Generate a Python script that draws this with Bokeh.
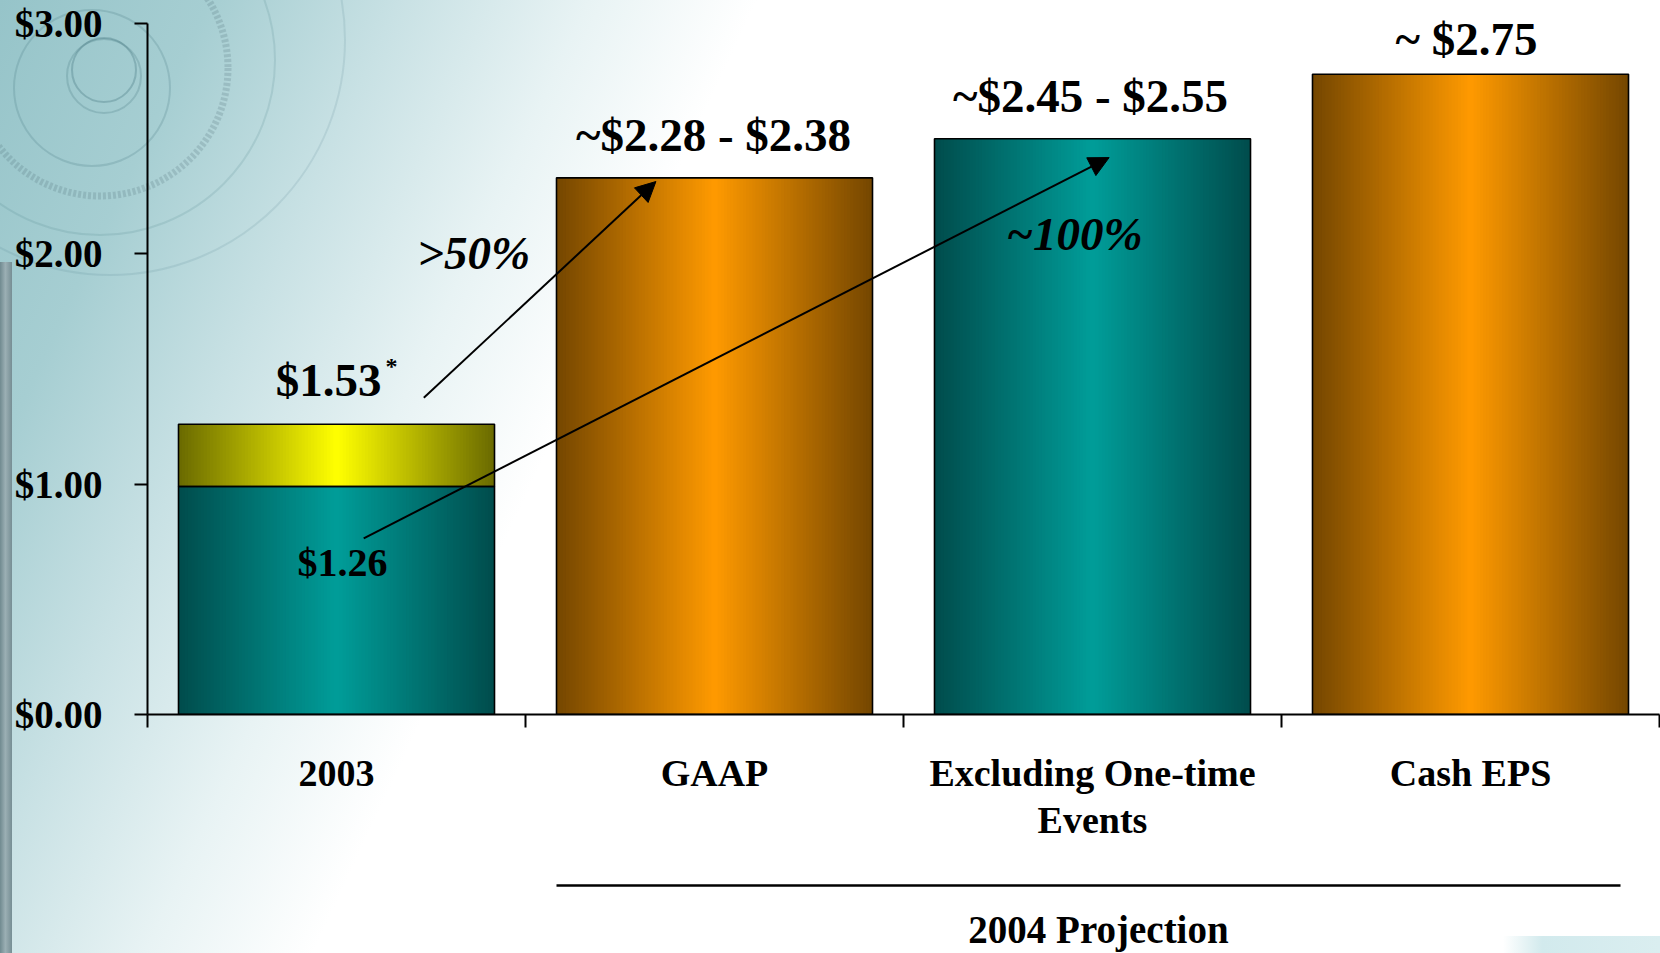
import numpy as np
from urllib.parse import quote
from bokeh.plotting import figure
from bokeh.models import Range1d, FixedTicker, PrintfTickFormatter, Arrow, NormalHead, LinearAxis
from bokeh.core.properties import value
from bokeh.embed import file_html
from bokeh.resources import INLINE

# ---------------- data ----------------
categories = ["2003", "GAAP", "Excluding One-time\nEvents", "Cash EPS"]
base_values = [0.99, 2.33, 2.50, 2.78]      # main bar height
extra_values = [0.27, 0.0, 0.0, 0.0]        # yellow portion stacked on 2003
base_palette = ["teal", "orange", "teal", "orange"]
value_labels = ["$1.53", "~$2.28 - $2.38", "~$2.45 - $2.55", "~ $2.75"]
footnote_mark = "*"
inner_label = "$1.26"
growth_labels = [">50%", "~100%"]
y_ticks = [0, 1, 2, 3]
group_label = "2004 Projection"
group_members = [1, 3]   # first and last category covered by the group line

# ---------------- layout ----------------
W, H = 1660, 953
LEFT, RIGHT, BOTTOM = 147, 1, 239
N = len(categories)
Y_TOP = 3.1
PX = (W - LEFT - RIGHT) / N
PY = (H - BOTTOM) / Y_TOP
BW = 0.836
FONT = "Liberation Serif"
BASE_FIX = 0.40   # baseline correction, in em


def dx(px):
    return px / PX


def dy(px):
    return px / PY


p = figure(width=W, height=H, x_range=Range1d(0, N), y_range=Range1d(0, Y_TOP),
           output_backend="svg", toolbar_location=None,
           min_border_left=LEFT, min_border_right=RIGHT, min_border_top=0,
           min_border_bottom=BOTTOM)
p.border_fill_color = None
p.background_fill_color = None
p.outline_line_color = None
p.xgrid.visible = False
p.ygrid.visible = False

# ---------------- background (CSS behind transparent canvas) ----------------
rings = (
    "<svg xmlns='http://www.w3.org/2000/svg' width='420' height='420'>"
    "<g fill='none'>"
    "<circle cx='104' cy='70' r='32' stroke='rgba(60,110,120,0.30)' stroke-width='2'/>"
    "<circle cx='104' cy='76' r='37' stroke='rgba(60,110,120,0.22)' stroke-width='2'/>"
    "<circle cx='92' cy='88' r='78' stroke='rgba(60,110,120,0.20)' stroke-width='2'/>"
    "<circle cx='100' cy='68' r='128' stroke='rgba(70,100,110,0.20)' stroke-width='7' stroke-dasharray='3 2'/>"
    "<circle cx='100' cy='60' r='175' stroke='rgba(60,110,120,0.14)' stroke-width='2'/>"
    "<circle cx='110' cy='40' r='235' stroke='rgba(60,110,120,0.12)' stroke-width='2'/>"
    "</g></svg>"
)
layers = [
    'url("data:image/svg+xml,' + quote(rings) + '")',
    "linear-gradient(to right, rgb(112,138,144), rgb(155,175,180) 45%, rgb(118,142,148))",
    "linear-gradient(to right, rgba(205,232,235,0), rgb(210,234,237) 25%, rgb(218,238,240))",
    "linear-gradient(115deg, rgb(150,196,201) 0%, rgb(166,206,210) 10%, rgb(200,225,228) 19%, "
    "rgb(232,243,244) 28%, rgb(255,255,255) 36%)",
]
p.styles = {
    "background-color": "white",
    "background-image": ", ".join(layers),
    "background-repeat": "no-repeat",
    "background-position": "0px 0px, 0px 262px, 1503px 936px, 0px 0px",
    "background-size": "420px 420px, 12px 691px, 157px 17px, 100% 100%",
}

# ---------------- bars with horizontal shading ----------------
GRAD = {
    "teal": ((0, 76, 76), (0, 157, 153)),
    "orange": ((116, 70, 0), (255, 154, 0)),
    "yellow": ((106, 106, 0), (255, 255, 0)),
}


def shade(xc, bottom, top, key, n=100):
    edge, mid = GRAD[key]
    e = np.linspace(xc - BW / 2, xc + BW / 2, n + 1)
    m = (e[:-1] + e[1:]) / 2
    t = np.abs(m - xc) / (BW / 2)
    cols = ["#%02x%02x%02x" % tuple(int(round(mid[k] + (edge[k] - mid[k]) * ti)) for k in range(3))
            for ti in t]
    ov = (e[1] - e[0]) * 0.6
    p.quad(left=e[:-1], right=np.minimum(e[1:] + ov, xc + BW / 2), bottom=bottom, top=top,
           fill_color=cols, line_color=None)


xc = np.arange(N) + 0.5
base = np.array(base_values)
extra = np.array(extra_values)
tops = base + extra

for i in range(N):
    shade(xc[i], 0, base[i], base_palette[i])
    if extra[i] > 0:
        shade(xc[i], base[i], tops[i], "yellow")

p.quad(left=xc - BW / 2, right=xc + BW / 2, bottom=0, top=base,
       fill_color=None, line_color="black", line_width=1.6)
has_extra = extra > 0
p.quad(left=(xc - BW / 2)[has_extra], right=(xc + BW / 2)[has_extra], bottom=base[has_extra],
       top=tops[has_extra], fill_color=None, line_color="black", line_width=1.6)

# ---------------- axes ----------------
ya = p.yaxis[0]
ya.ticker = FixedTicker(ticks=y_ticks)
ya.bounds = (y_ticks[0], y_ticks[-1])
ya.formatter = PrintfTickFormatter(format="$%.2f")
ya.axis_line_width = 2
ya.major_tick_line_width = 2
ya.major_tick_out = 13
ya.major_tick_in = 0
ya.minor_tick_line_color = None
ya.major_label_standoff = 32
ya.major_label_text_font = FONT
ya.major_label_text_font_style = "bold"
ya.major_label_text_font_size = "39px"
ya.major_label_text_color = "black"

xa = p.xaxis[0]
xa.ticker = FixedTicker(ticks=list(xc), minor_ticks=list(range(N + 1)))
xa.major_label_overrides = {float(c): lab for c, lab in zip(xc, categories)}
xa.axis_line_width = 2
xa.major_tick_line_color = None
xa.major_tick_out = 13
xa.major_tick_in = 0
xa.minor_tick_line_color = "black"
xa.minor_tick_line_width = 2
xa.minor_tick_out = 13
xa.minor_tick_in = 0
xa.major_label_standoff = 24
xa.major_label_text_font = FONT
xa.major_label_text_font_style = "bold"
xa.major_label_text_font_size = "38px"
xa.major_label_text_line_height = 1.14
xa.major_label_text_color = "black"
# invisible spacer label so the group rule below sits at the right depth
xa.axis_label = "\u00a0"
xa.axis_label_standoff = 27
xa.axis_label_text_font_size = "10px"

# second axis: the "2004 Projection" group rule and its label
g0, g1 = group_members
gx = (xc[g0] + xc[g1]) / 2 + dx(6)
ga = LinearAxis(ticker=FixedTicker(ticks=[gx], minor_ticks=[]),
                major_label_overrides={float(gx): group_label},
                bounds=(xc[g0] - BW / 2, xc[g1] + BW / 2 - dx(8)))
ga.axis_line_width = 2.5
ga.axis_line_color = "black"
ga.major_tick_line_color = None
ga.minor_tick_line_color = None
ga.major_tick_out = 0
ga.major_tick_in = 0
ga.major_label_standoff = 22
ga.major_label_text_font = FONT
ga.major_label_text_font_style = "bold"
ga.major_label_text_font_size = "39px"
ga.major_label_text_color = "black"
p.add_layout(ga, "below")


# ---------------- value labels ----------------
def fix(size_px):
    return dy(BASE_FIX * size_px)


label_gap_px = [25, 24, 24, 16]
label_shift_px = [-8, -1, -2, -4]
p.text(x=xc + dx(np.array(label_shift_px)), y=tops + dy(np.array(label_gap_px)) + fix(47), text=value_labels,
       text_font=value(FONT), text_font_style="bold", text_font_size="47px",
       text_align="center", text_baseline="alphabetic", text_color="black")
p.text(x=[xc[0] + dx(49)], y=[tops[0] + dy(label_gap_px[0] + 24) + fix(24)], text=[footnote_mark],
       text_font=value(FONT), text_font_style="bold", text_font_size="24px",
       text_align="left", text_baseline="alphabetic", text_color="black")
p.text(x=[xc[0] + dx(6)], y=[base[0] - dy(92) + fix(40)], text=[inner_label],
       text_font=value(FONT), text_font_style="bold", text_font_size="40px",
       text_align="center", text_baseline="alphabetic", text_color="black")

# ---------------- growth arrows ----------------
arrow_paths = [((0.731, 1.375), (1.345, 2.314)), ((0.572, 0.765), (2.544, 2.418))]
growth_pos = [(0.863, 1.920), (2.452, 2.005)]
for (s, e) in arrow_paths:
    p.add_layout(Arrow(x_start=s[0], y_start=s[1], x_end=e[0], y_end=e[1],
                       line_color="black", line_width=2,
                       end=NormalHead(size=20, fill_color="black", line_color="black", line_width=1)))
p.text(x=[g[0] for g in growth_pos], y=[g[1] + fix(47) for g in growth_pos], text=growth_labels,
       text_font=value(FONT), text_font_style="bold italic", text_font_size="47px",
       text_align="center", text_baseline="alphabetic", text_color="black")

open("out.html", "w").write(file_html(p, INLINE))
